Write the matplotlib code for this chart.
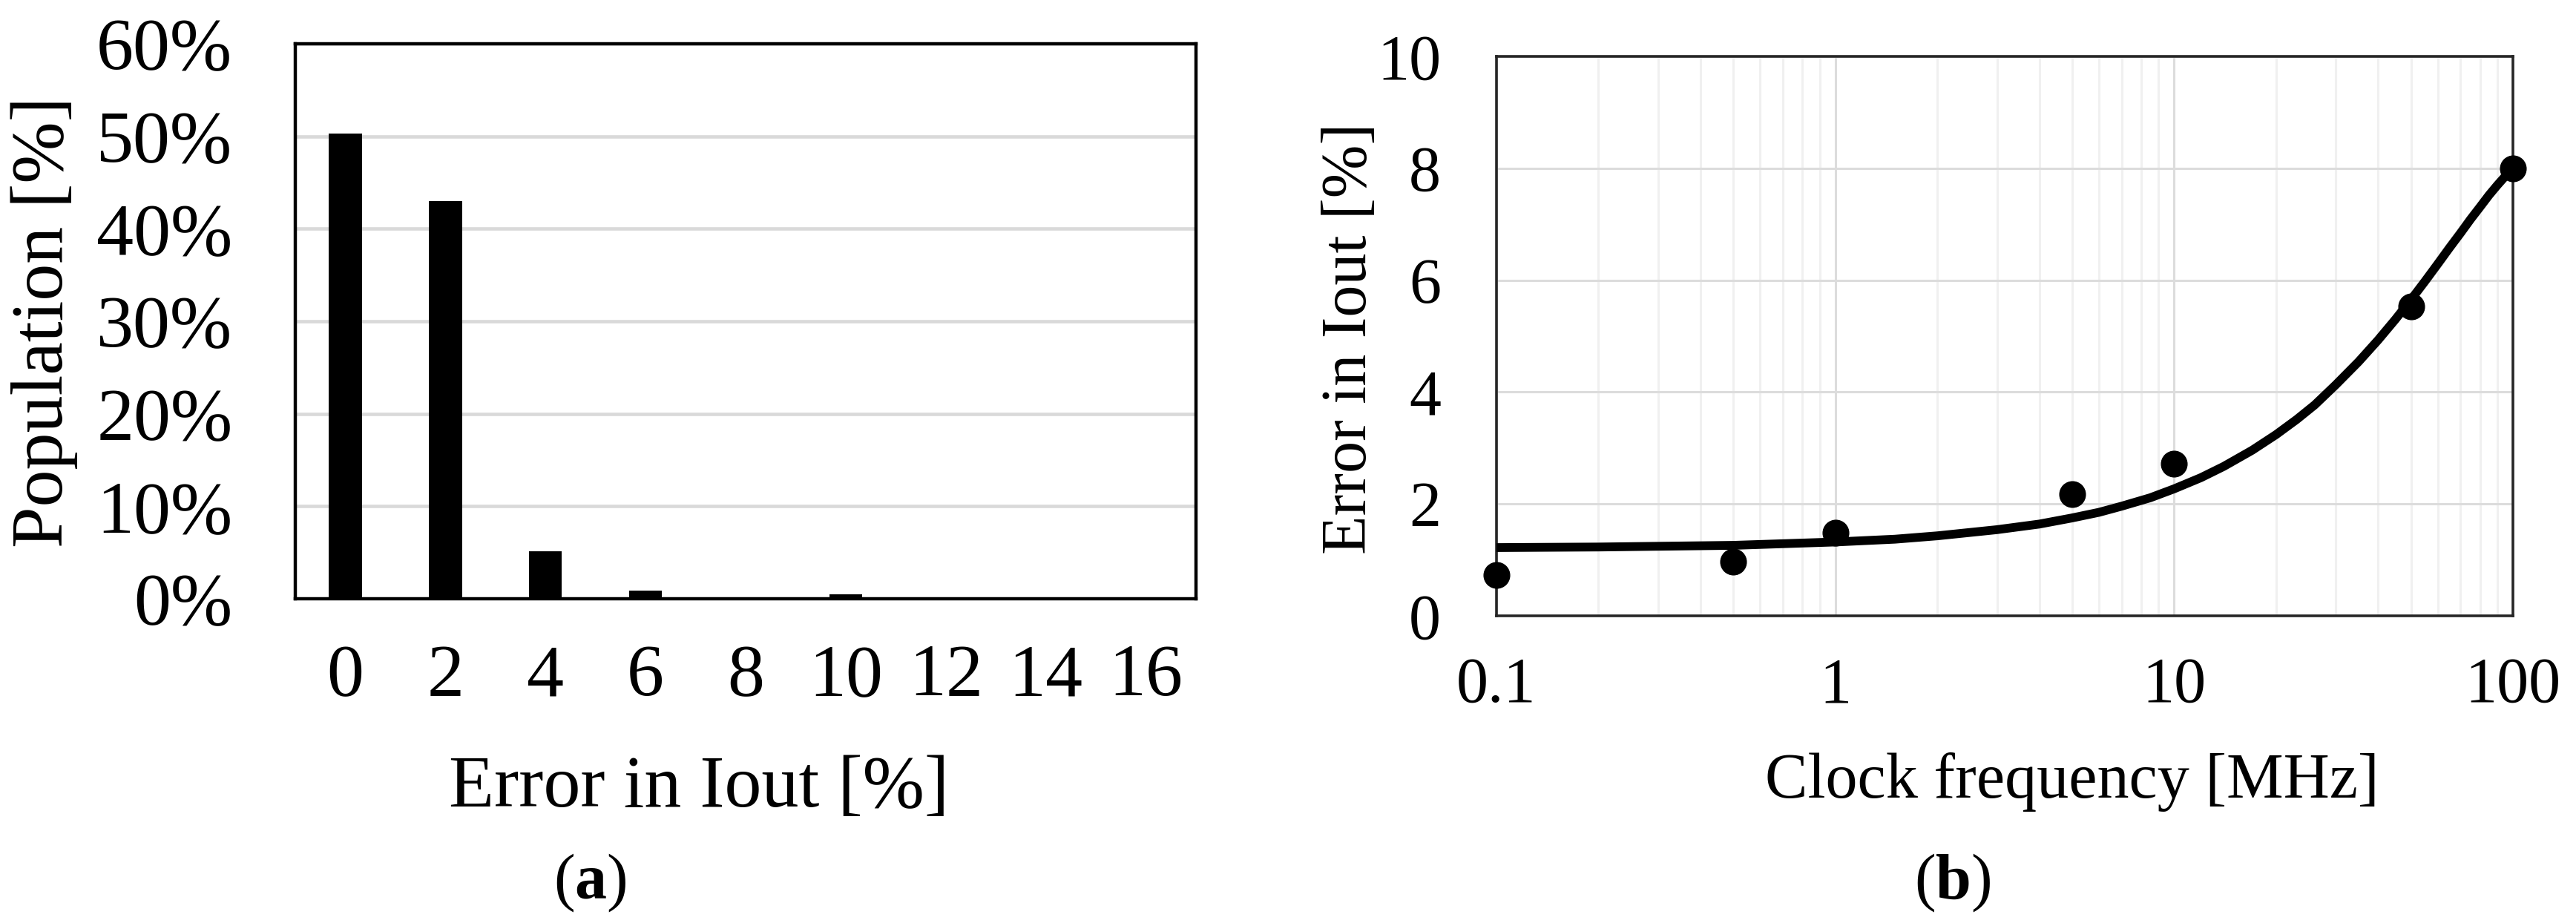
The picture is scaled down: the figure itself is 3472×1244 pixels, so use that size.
"""Iout error: (a) population histogram, (b) error vs clock frequency."""
import matplotlib
matplotlib.use("Agg")
import matplotlib.pyplot as plt

plt.rcParams["font.family"] = ["Liberation Serif", "DejaVu Serif"]
plt.rcParams["mathtext.fontset"] = "custom"
plt.rcParams["mathtext.rm"] = "Liberation Serif"
plt.rcParams["mathtext.bf"] = "Liberation Serif:bold"

# (a) histogram
err_bins = ["0", "2", "4", "6", "8", "10", "12", "14", "16"]
population = [50.3, 43.0, 5.1, 0.9, 0.15, 0.45, 0.0, 0.0, 0.0]
pop_ticks = [0, 10, 20, 30, 40, 50, 60]

# (b) measured points and trend line
clk_mhz = [0.1, 0.5, 1, 5, 10, 50, 100]
err_pct = [0.73, 0.97, 1.49, 2.17, 2.72, 5.53, 8.0]
trend_x = [0.1, 0.2, 0.5, 1, 1.5, 2, 3, 4, 5, 6, 7, 8.5, 10, 12, 14, 17,
           20, 23, 26, 30, 35, 40, 45, 50, 55, 60, 65, 70, 75, 80, 85, 90,
           95, 100]
trend_y = [1.22, 1.23, 1.26, 1.32, 1.37, 1.43, 1.54, 1.64, 1.75, 1.85,
           1.96, 2.11, 2.27, 2.47, 2.67, 2.96, 3.24, 3.51, 3.77, 4.13,
           4.54, 4.93, 5.30, 5.65, 5.98, 6.29, 6.58, 6.84, 7.09, 7.31,
           7.52, 7.70, 7.86, 8.00]
clk_ticks = [0.1, 1, 10, 100]
clk_labels = ["0.1", "1", "10", "100"]
err_ticks = [0, 2, 4, 6, 8, 10]

W, H = 3472, 1244
fig = plt.figure(figsize=(W / 100, H / 100), dpi=100)


def box(l, t, r, b):
    return [l / W, 1 - b / H, (r - l) / W, (b - t) / H]


# ---- panel (a)
ax = fig.add_axes(box(398, 59, 1612, 807))
ax.bar(err_bins, population, width=0.33, color="black", zorder=3)
ax.set_xlim(-0.5, len(err_bins) - 0.5)
ax.set_ylim(0, 60)
ax.set_yticks(pop_ticks)
ax.set_yticklabels([f"{v}%" for v in pop_ticks])
ax.grid(axis="y", color="#d9d9d9", lw=3.3, zorder=0)
ax.set_axisbelow(True)
for s in ax.spines.values():
    s.set_linewidth(3.2)
    s.set_color("black")
ax.tick_params(axis="both", length=0, labelsize=72)
ax.tick_params(axis="y", pad=61)
ax.tick_params(axis="x", pad=44)

fig.text(60 / W, 1 - 434 / H, "Population [%]", rotation=90, fontsize=72,
         ha="center", va="center")
fig.text(942 / W, 1 - 1087 / H, "Error in Iout [%]", fontsize=72,
         ha="center", va="baseline")
fig.text(795 / W, 1 - 1211 / H, r"($\mathbf{a}$)", fontsize=62,
         ha="center", va="baseline")

# ---- panel (b)
bx = fig.add_axes(box(2017, 76, 3387, 830))
bx.set_xscale("log")
bx.plot(trend_x, trend_y, color="black", lw=8.5, solid_capstyle="butt",
        solid_joinstyle="round", zorder=3)
bx.plot(clk_mhz, err_pct, "o", color="black", ms=25, zorder=4,
        clip_on=False)
bx.set_xlim(0.1, 100)
bx.set_ylim(0, 10)
bx.set_yticks(err_ticks)
bx.set_xticks(clk_ticks)
bx.set_xticklabels(clk_labels)
bx.grid(which="major", color="#dcdcdc", lw=2.2, zorder=0)
bx.grid(which="minor", axis="x", color="#f0f0f0", lw=2.2, zorder=0)
bx.set_axisbelow(True)
for s in bx.spines.values():
    s.set_linewidth(2.6)
    s.set_color("#262626")
bx.tick_params(axis="both", which="both", length=0, labelsize=62)
bx.tick_params(axis="x", which="minor", labelbottom=False)
bx.tick_params(axis="y", pad=54)
bx.tick_params(axis="x", pad=40)

fig.text(1820 / W, 1 - 456 / H, "Error in Iout [%]", rotation=90,
         fontsize=62, ha="center", va="center")
fig.text(2793 / W, 1 - 1075 / H, "Clock frequency [MHz]", fontsize=62,
         ha="center", va="baseline")
fig.text(2632 / W, 1 - 1211 / H, r"($\mathbf{b}$)", fontsize=62,
         ha="center", va="baseline")

fig.savefig("out.png", dpi=100)
